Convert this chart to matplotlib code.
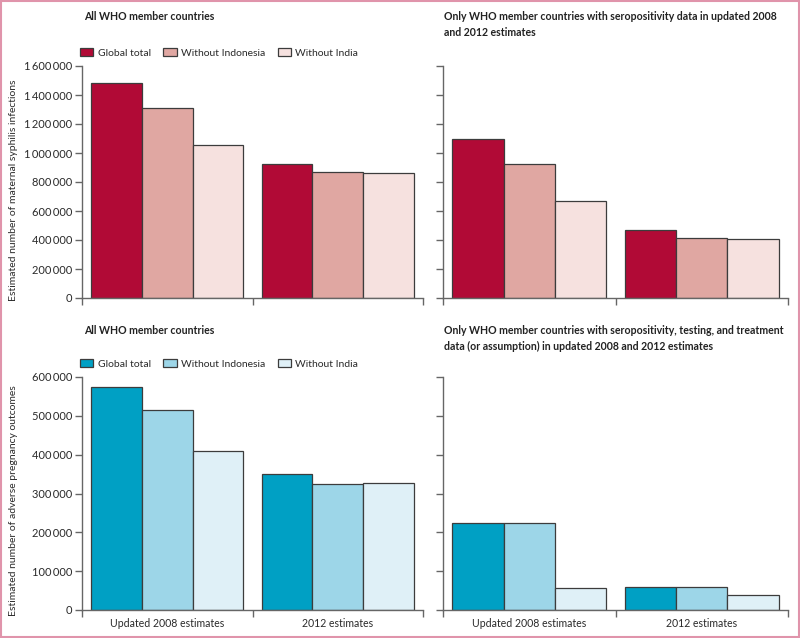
import matplotlib
matplotlib.use("Agg")
import matplotlib.pyplot as plt
import numpy as np
from matplotlib.patches import Rectangle

plt.rcParams['font.family'] = ['Lato', 'DejaVu Sans']

groups = ["Updated 2008 estimates", "2012 estimates"]
series = ["Global total", "Without Indonesia", "Without India"]

# Maternal syphilis infections
infections_all = {
    "Global total": [1483000, 922000],
    "Without Indonesia": [1308000, 871000],
    "Without India": [1053000, 862000],
}
infections_sero = {
    "Global total": [1097000, 469000],
    "Without Indonesia": [926000, 416000],
    "Without India": [667000, 409000],
}
# Adverse pregnancy outcomes
outcomes_all = {
    "Global total": [575000, 350000],
    "Without Indonesia": [515000, 324000],
    "Without India": [409000, 328000],
}
outcomes_sero = {
    "Global total": [223500, 59000],
    "Without Indonesia": [223500, 59000],
    "Without India": [57500, 38000],
}

red_colors = ["#b10a36", "#e0a7a2", "#f6e1df"]
blue_colors = ["#00a0c4", "#9dd6e8", "#dff0f7"]

top_ticks = [0, 200000, 400000, 600000, 800000, 1000000, 1200000, 1400000, 1600000]
bot_ticks = [0, 100000, 200000, 300000, 400000, 500000, 600000]

title_tl = "All WHO member countries"
title_tr = "Only WHO member countries with seropositivity data in updated 2008\nand 2012 estimates"
title_bl = "All WHO member countries"
title_br = "Only WHO member countries with seropositivity, testing, and treatment\ndata (or assumption) in updated 2008 and 2012 estimates"
ylabel_top = "Estimated number of maternal syphilis infections"
ylabel_bot = "Estimated number of adverse pregnancy outcomes"

W, H = 800, 638
fig = plt.figure(figsize=(8, 6.38), dpi=100)

def fx(px):
    return px / W

def fy(py):
    return 1 - py / H

def make_ax(x0, x1, ytop, ybot):
    return fig.add_axes([fx(x0), fy(ybot), fx(x1) - fx(x0), fy(ytop) - fy(ybot)])

ax_tl = make_ax(82, 423, 66, 298)
ax_tr = make_ax(443, 788, 66, 298)
ax_bl = make_ax(82, 423, 377, 610)
ax_br = make_ax(443, 788, 377, 610)

def fmt(v):
    s = f"{int(v):,}".replace(",", "\u2009")
    return s

spine_col = "#666666"
edge_col = "#3c3c3c"
text_col = "#2a2a2a"
bw = 0.297
FS = 8

def draw(ax, data, colors, ymax, yticks, show_ylabels, show_xlabels):
    x = np.array([0.5, 1.5])
    handles = []
    for i, s in enumerate(series):
        b = ax.bar(x + (i - 1) * bw, data[s], width=bw, color=colors[i],
                   edgecolor=edge_col, linewidth=0.9, label=s, zorder=2)
        handles.append(b)
    ax.set_xlim(0, 2)
    ax.set_ylim(0, ymax)
    for sp in ["top", "right"]:
        ax.spines[sp].set_visible(False)
    for sp in ["left", "bottom"]:
        ax.spines[sp].set_color(spine_col)
        ax.spines[sp].set_linewidth(1.0)
    ax.set_yticks(yticks)
    if show_ylabels:
        ax.set_yticklabels([fmt(v) for v in yticks])
    else:
        ax.set_yticklabels([])
    ax.tick_params(axis='y', direction='out', length=5, width=1.0, color=spine_col,
                   labelsize=FS, labelcolor=text_col, pad=2)
    ax.set_xticks([0, 1, 2])
    ax.set_xticklabels([])
    ax.tick_params(axis='x', which='major', direction='out', length=5, width=1.0, color=spine_col)
    ax.set_xticks([0.5, 1.5], minor=True)
    if show_xlabels:
        ax.set_xticklabels(groups, minor=True)
    else:
        ax.set_xticklabels([], minor=True)
    ax.tick_params(axis='x', which='minor', length=0, labelsize=7.6, labelcolor=text_col, pad=6)
    return handles

h1 = draw(ax_tl, infections_all, red_colors, 1600000, top_ticks, True, False)
draw(ax_tr, infections_sero, red_colors, 1600000, top_ticks, False, False)
h2 = draw(ax_bl, outcomes_all, blue_colors, 600000, bot_ticks, True, True)
draw(ax_br, outcomes_sero, blue_colors, 600000, bot_ticks, False, True)

for ax, hs in [(ax_tl, h1), (ax_bl, h2)]:
    ax.legend(hs, series, loc='center left', bbox_to_anchor=(-0.006, 1.056), ncol=3,
              frameon=False, fontsize=7.5, handlelength=1.3, handleheight=0.8,
              handletextpad=0.4, columnspacing=1.2, borderaxespad=0, borderpad=0,
              labelcolor=text_col)

ax_tl.set_ylabel(ylabel_top, fontsize=7.5, color=text_col)
ax_bl.set_ylabel(ylabel_bot, fontsize=7.5, color=text_col)
ax_tl.yaxis.set_label_coords(-0.187, 0.466)
ax_bl.yaxis.set_label_coords(-0.187, 0.468)

tkw = dict(fontsize=7.6, fontweight='bold', color="#222222", va='top', ha='left', linespacing=1.55)
fig.text(fx(84), fy(11), title_tl, **tkw)
fig.text(fx(444), fy(11), title_tr, **tkw)
fig.text(fx(84), fy(325), title_bl, **tkw)
fig.text(fx(444), fy(325), title_br, **tkw)

fig.patches.append(Rectangle((0.001, 0.002), 0.998, 0.997, transform=fig.transFigure,
                             fill=False, edgecolor="#e094ab", linewidth=1.5))

fig.savefig("out.png", dpi=100)
